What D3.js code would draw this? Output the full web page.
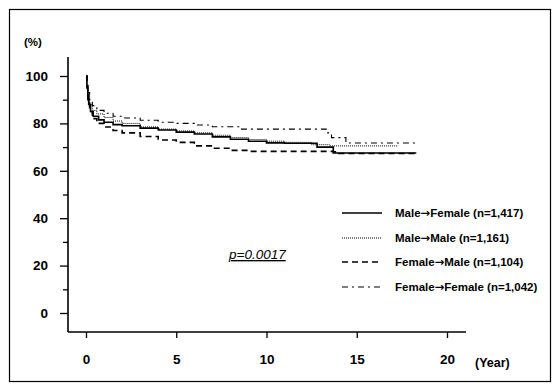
<!DOCTYPE html>
<html>
<head>
<meta charset="utf-8">
<script src="https://cdn.jsdelivr.net/npm/d3@7"></script>
<style>
  html, body { margin: 0; padding: 0; background: #fff; }
  svg { display: block; font-family: "Liberation Sans", Arial, sans-serif; }
  .arrow { font-family: "DejaVu Sans", sans-serif; font-weight: bold; }
</style>
</head>
<body>
<svg id="chart" width="560" height="389"></svg>
<script>
// Kaplan–Meier survival (%) by donor→recipient sex, [years, survival]
const maleToFemale = [[0,100],[0.05,96],[0.1,92],[0.15,88],[0.25,85],[0.4,83],[0.7,81.5],[1,80.5],[1.5,79.5],[2,79],[3,78],[4,77.2],[5,76.3],[6,75.5],[7,74.3],[8,73.3],[9,72.5],[10,71.8],[11,71.6],[12.8,70],[13.7,67.5],[18.3,67.5]];
const maleToMale = [[0,100],[0.05,96],[0.1,92],[0.2,88],[0.35,85.5],[0.6,84],[1,82.5],[1.5,81],[2,80],[3,78.5],[4,77.6],[5,76.8],[6,76],[7,75],[8,74],[9,73.2],[10,72.5],[11,72],[12.5,71],[13.5,70.5],[17.3,70.5]];
const femaleToMale = [[0,100],[0.05,95],[0.1,90],[0.2,85],[0.35,82],[0.6,80],[1,78.5],[1.5,77],[2,76],[3,74.5],[4,73],[5,72],[6,70.5],[7,69.5],[8,68.6],[9,68.2],[13.7,68],[14,67.3],[18.3,67.3]];
const femaleToFemale = [[0,100],[0.05,96],[0.1,93],[0.2,90],[0.35,87.5],[0.6,85.5],[1,84.3],[1.5,83],[2,82.3],[3,81.3],[4,80.5],[5,80],[6,79.3],[7,78.6],[8.5,77.6],[12.6,77.6],[13.3,76],[13.6,74],[14.4,71.7],[18.3,71.7]];

// legend labels: donor, recipient, group size
const donors = ["Male", "Male", "Female", "Female"];
const recipients = ["Female", "Male", "Male", "Female"];
const groupSizes = ["n=1,417", "n=1,161", "n=1,104", "n=1,042"];
const xTicks = [0, 5, 10, 15, 20];
const yTicks = [0, 20, 40, 60, 80, 100];
const yMinorTicks = [10, 30, 50, 70, 90];
const pValueText = "p=0.0017";

const series = [
  { data: maleToFemale,  width: 1.6, dash: null },
  { data: maleToMale,    width: 1.0, dash: "1,1" },
  { data: femaleToMale,  width: 1.6, dash: "6,4" },
  { data: femaleToFemale, width: 1.1, dash: "6,4,2,4" }
];

const svg = d3.select("#chart");

// outer frame
svg.append("rect").attr("x", 9.5).attr("y", 9.5).attr("width", 541).attr("height", 372)
  .attr("fill", "none").attr("stroke", "#000").attr("stroke-width", 1.2);

const x = d3.scaleLinear().domain([0, 20]).range([86, 447]);
const y = d3.scaleLinear().domain([0, 100]).range([313, 76]);

const axisX = 68, axisY = 332;

// axis lines
svg.append("line").attr("x1", axisX).attr("x2", axisX).attr("y1", 57).attr("y2", axisY)
  .attr("stroke", "#000").attr("stroke-width", 1.6);
svg.append("line").attr("x1", axisX).attr("x2", 466).attr("y1", axisY).attr("y2", axisY)
  .attr("stroke", "#000").attr("stroke-width", 1.6);

// y axis ticks and labels
const yAxis = d3.axisLeft(y).tickValues(yTicks).tickSize(8).tickPadding(12).tickSizeOuter(0);
const gy = svg.append("g").attr("transform", `translate(${axisX},0)`).call(yAxis);
gy.select(".domain").remove();
gy.selectAll("line").attr("stroke-width", 1.3);
gy.selectAll("text").attr("font-size", 13.5).attr("font-weight", "bold").attr("fill", "#000");

const yMinor = d3.axisLeft(y).tickValues(yMinorTicks).tickSize(5).tickFormat("");
const gym = svg.append("g").attr("transform", `translate(${axisX},0)`).call(yMinor);
gym.select(".domain").remove();
gym.selectAll("line").attr("stroke-width", 1.3);

// x axis ticks and labels
const xAxis = d3.axisBottom(x).tickValues(xTicks).tickSize(6).tickPadding(16).tickSizeOuter(0);
const gx = svg.append("g").attr("transform", `translate(0,${axisY})`).call(xAxis);
gx.select(".domain").remove();
gx.selectAll("line").attr("stroke-width", 1.3);
gx.selectAll("text").attr("font-size", 13.5).attr("font-weight", "bold").attr("fill", "#000");

svg.append("text").attr("x", 475).attr("y", 367).attr("font-size", 12.5).attr("font-weight", "bold")
  .text("(Year)");
svg.append("text").attr("x", 24).attr("y", 46).attr("font-size", 11.5).attr("font-weight", "bold")
  .text("(%)");

// survival curves
const line = d3.line().x(d => x(d[0])).y(d => y(d[1])).curve(d3.curveStepAfter);
svg.append("g").selectAll("path").data(series).join("path")
  .attr("d", d => line(d.data))
  .attr("fill", "none").attr("stroke", "#000")
  .attr("stroke-width", d => d.width)
  .attr("stroke-dasharray", d => d.dash);

// legend
const legendRows = [213, 238, 262, 287];
const lg = svg.append("g");
series.forEach((s, i) => {
  lg.append("line").attr("x1", 342).attr("x2", 382).attr("y1", legendRows[i]).attr("y2", legendRows[i])
    .attr("stroke", "#000").attr("stroke-width", s.width).attr("stroke-dasharray", s.dash);
  const t = lg.append("text").attr("x", 395).attr("y", legendRows[i] + 4).attr("font-size", 11.5)
    .attr("font-weight", "bold");
  t.append("tspan").text(donors[i]);
  t.append("tspan").attr("class", "arrow").text("\u2192");
  t.append("tspan").text(recipients[i] + " (" + groupSizes[i] + ")");
});

// log-rank p value
svg.append("text").attr("x", 229).attr("y", 259).attr("font-size", 13.5).attr("font-style", "italic")
  .attr("text-decoration", "underline").text(pValueText);
</script>
</body>
</html>
